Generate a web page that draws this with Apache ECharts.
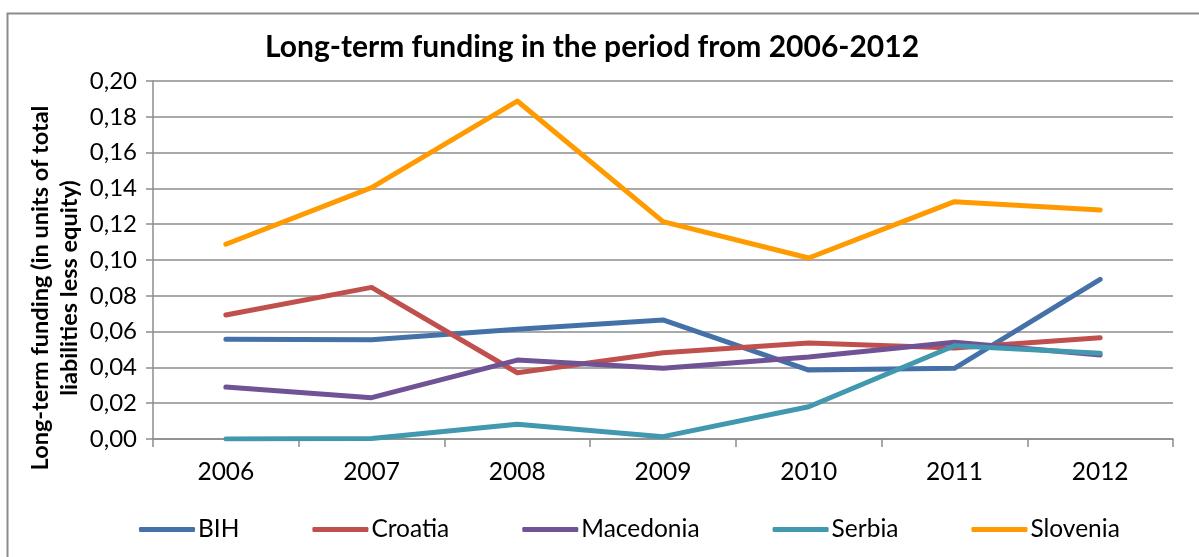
<!DOCTYPE html>
<html>
<head>
<meta charset="utf-8">
<script src="https://cdn.jsdelivr.net/npm/echarts@6/dist/echarts.min.js"></script>
<style>
  html, body { margin: 0; padding: 0; background: #ffffff; }
  #chart { width: 1199px; height: 557px; }
</style>
</head>
<body>
<div id="chart"></div>
<script>
// Years on the category axis
const years = ['2006', '2007', '2008', '2009', '2010', '2011', '2012'];

// Long-term funding ratios per country
const bih       = [0.0557, 0.0555, 0.0613, 0.0665, 0.0385, 0.0395, 0.0892];
const croatia   = [0.0693, 0.0847, 0.0370, 0.0482, 0.0536, 0.0508, 0.0566];
const macedonia = [0.0290, 0.0231, 0.0441, 0.0395, 0.0458, 0.0540, 0.0469];
const serbia    = [0.0000, 0.0003, 0.0082, 0.0013, 0.0180, 0.0521, 0.0479];
const slovenia  = [0.1088, 0.1404, 0.1888, 0.1214, 0.1011, 0.1326, 0.1279];

const seriesNames = ['BIH', 'Croatia', 'Macedonia', 'Serbia', 'Slovenia'];
const seriesData = [bih, croatia, macedonia, serbia, slovenia];
const colors = ['#4571A9', '#C0504D', '#6F5395', '#4198AF', '#FF9B00'];

const FONT = 'Lato, "Open Sans", sans-serif';
const GRID_GREY = '#8c8c8c';

const chart = echarts.init(document.getElementById('chart'), null, { renderer: 'canvas' });

chart.setOption({
  backgroundColor: '#ffffff',
  animation: false,
  color: colors,
  title: {
    text: 'Long-term funding in the period from 2006-2012',
    left: 587,
    top: 27,
    textAlign: 'center',
    textStyle: { fontFamily: FONT, fontWeight: 'bold', fontSize: 30, color: '#000000' }
  },
  legend: {
    data: seriesNames,
    left: 134,
    top: 512,
    itemWidth: 56,
    itemHeight: 5,
    itemGap: 73,
    icon: 'roundRect',
    textStyle: { fontFamily: FONT, fontSize: 24.5, color: '#000000', padding: [0, 0, 0, -2] }
  },
  grid: { left: 153, right: 26, top: 81, bottom: 118, containLabel: false },
  xAxis: {
    type: 'category',
    data: years,
    boundaryGap: true,
    axisLine: { lineStyle: { color: GRID_GREY, width: 1.5 } },
    axisTick: { show: true, length: 8, alignWithLabel: false, lineStyle: { color: GRID_GREY, width: 1.5 } },
    axisLabel: { fontFamily: FONT, fontSize: 24.5, color: '#000000', margin: 21 },
    splitLine: { show: false }
  },
  yAxis: {
    type: 'value',
    min: 0,
    max: 0.2,
    interval: 0.02,
    axisLine: { show: true, lineStyle: { color: GRID_GREY, width: 1.5 } },
    axisTick: { show: true, length: 7, lineStyle: { color: GRID_GREY, width: 1.5 } },
    axisLabel: {
      fontFamily: FONT, fontSize: 24, color: '#000000', margin: 16,
      formatter: v => v.toFixed(2).replace('.', ',')
    },
    splitLine: { show: true, lineStyle: { color: GRID_GREY, width: 1.5 } }
  },
  graphic: [
    {
      type: 'rect',
      silent: true,
      z: -1,
      shape: { x: 7.5, y: 13.5, width: 1300, height: 700 },
      style: { fill: 'none', stroke: '#8c8c8c', lineWidth: 2 }
    },
    {
      type: 'text',
      silent: true,
      x: 55,
      y: 288,
      rotation: Math.PI / 2,
      style: {
        text: 'Long-term funding (in units of total\nliabilities less equity)',
        font: 'bold 23.5px Lato, "Open Sans", sans-serif',
        fill: '#000000',
        textAlign: 'center',
        textVerticalAlign: 'middle',
        lineHeight: 29
      }
    }
  ],
  series: seriesNames.map((name, i) => ({
    name: name,
    type: 'line',
    data: seriesData[i],
    showSymbol: false,
    symbol: 'none',
    lineStyle: { width: 5, color: colors[i], cap: 'round', join: 'round' },
    itemStyle: { color: colors[i] }
  }))
});
</script>
</body>
</html>
